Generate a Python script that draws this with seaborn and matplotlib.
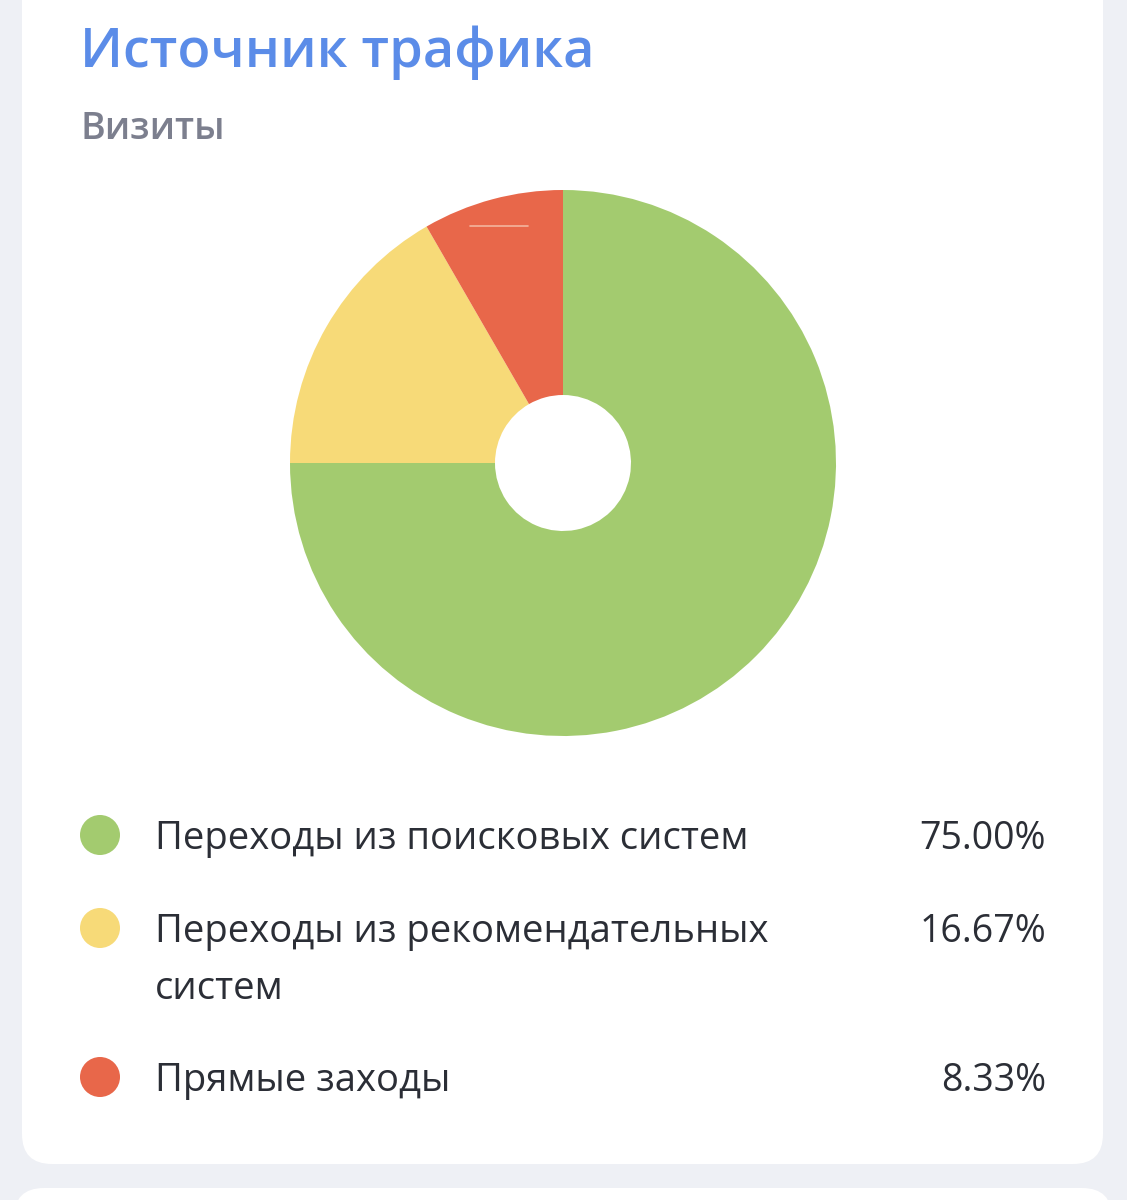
import matplotlib
matplotlib.use("Agg")
import matplotlib.pyplot as plt
from matplotlib.patches import FancyBboxPatch
import seaborn as sns
import pandas as pd

# ---- data ----
categories = ["Переходы из поисковых систем",
              "Переходы из рекомендательных\nсистем",
              "Прямые заходы"]
shares = [75.00, 16.67, 8.33]
pct_labels = ["75.00%", "16.67%", "8.33%"]
colors = ["#a3cb6f", "#f7da78", "#e8674a"]
title = "Источник трафика"
subtitle = "Визиты"

sns.set_style("white")
plt.rcParams["font.family"] = ["Open Sans", "DejaVu Sans"]

W, H = 1127, 1200
fig = plt.figure(figsize=(W / 100, H / 100), dpi=100)
fig.patch.set_facecolor("#eef0f5")

def fx(x):
    return x / W

def fy(y):
    return 1 - y / H

# background cards
bg = fig.add_axes([0, 0, 1, 1])
bg.set_xlim(0, W)
bg.set_ylim(H, 0)
bg.axis("off")
bg.add_patch(FancyBboxPatch((22, -60), 1081, 1224, boxstyle="round,pad=0,rounding_size=30",
                            fc="white", ec="none"))
bg.add_patch(FancyBboxPatch((14, 1188), 1098, 100, boxstyle="round,pad=0,rounding_size=30",
                            fc="white", ec="none"))

# titles
fig.text(fx(80), fy(67), title, color="#5b8ce8", fontsize=39, fontweight="semibold",
         ha="left", va="baseline")
fig.text(fx(80), fy(139), subtitle, color="#7c7f8e", fontsize=27, fontweight="semibold",
         ha="left", va="baseline")

# pie / donut
cx, cy, r = 563, 463, 273
pax = fig.add_axes([fx(cx - r), fy(cy + r), 2 * r / W, 2 * r / H])
pax.pie(shares, colors=colors, startangle=90, counterclock=False,
        wedgeprops=dict(width=1 - 68 / 273, edgecolor="none"))
pax.set_xlim(-1, 1)
pax.set_ylim(-1, 1)
pax.set_aspect("auto")
pax.axis("off")
# thin light artifact line inside the red slice
pax.plot([(470 - cx) / r, (528 - cx) / r], [(cy - 226) / r, (cy - 226) / r],
         color="#f4b49e", lw=1.2)

# legend
lax = fig.add_axes([0, 0, 1, 1])
dot_y = [835, 928, 1077]
base_y = [849, 942, 1091]
df = pd.DataFrame({"x": [100] * 3, "y": dot_y, "cat": categories})
sns.scatterplot(data=df, x="x", y="y", hue="cat", palette=colors, s=830,
                edgecolor="none", legend=False, ax=lax)
lax.set_xlim(0, W)
lax.set_ylim(H, 0)
lax.axis("off")
text_color = "#2b2e36"
line_gap = 57
for cat, pct, by in zip(categories, pct_labels, base_y):
    for i, line in enumerate(cat.split("\n")):
        fig.text(fx(155), fy(by + i * line_gap), line, color=text_color, fontsize=27.5,
                 ha="left", va="baseline")
    fig.text(fx(1046), fy(by), pct, color=text_color, fontsize=27, ha="right",
             va="baseline")

fig.savefig("out.png", dpi=100, facecolor=fig.get_facecolor())
